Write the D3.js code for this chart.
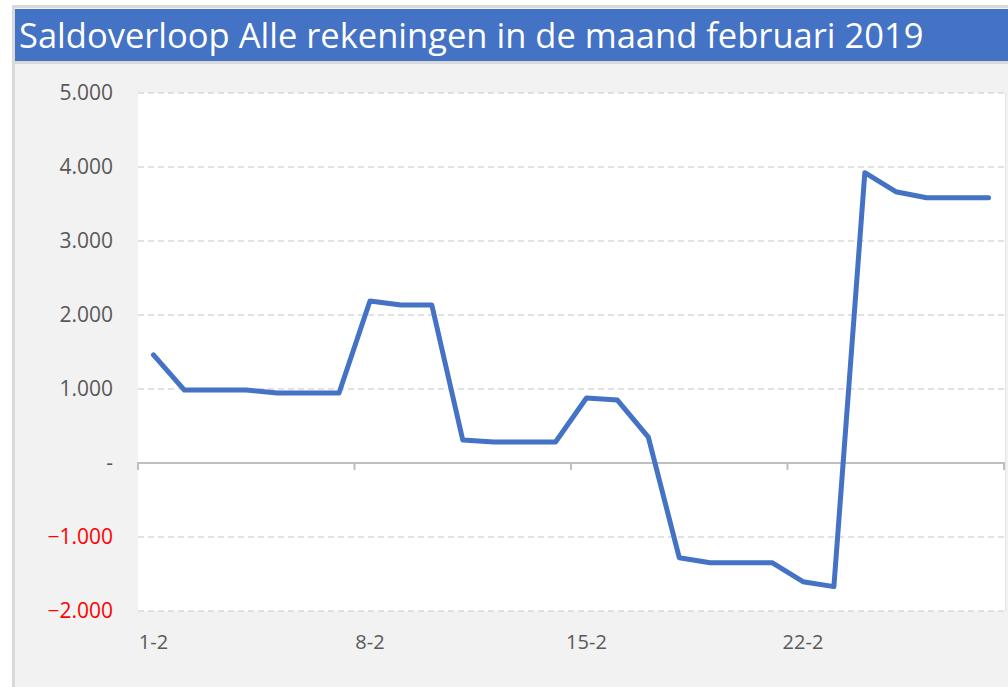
<!DOCTYPE html>
<html>
<head>
<meta charset="utf-8">
<script src="https://cdnjs.cloudflare.com/ajax/libs/d3/7.8.5/d3.min.js"></script>
<style>
  body { margin: 0; background: #fff; }
  text { font-family: "Open Sans", "Noto Sans", sans-serif; }
</style>
</head>
<body>
<svg id="chart" width="1008" height="687"></svg>
<script>
  // data
  var days = ['1-2','2-2','3-2','4-2','5-2','6-2','7-2','8-2','9-2','10-2',
              '11-2','12-2','13-2','14-2','15-2','16-2','17-2','18-2','19-2','20-2',
              '21-2','22-2','23-2','24-2','25-2','26-2','27-2','28-2'];
  var saldo = [1460, 986, 986, 986, 946, 946, 946, 2190, 2135, 2135,
               310, 284, 284, 284, 878, 851, 351, -1280, -1347, -1347,
               -1347, -1604, -1671, 3923, 3666, 3585, 3585, 3585];
  var yTicks = [5000, 4000, 3000, 2000, 1000, 0, -1000, -2000];
  var xLabels = ['1-2', '8-2', '15-2', '22-2'];

  var title = 'Saldoverloop Alle rekeningen in de maand februari 2019';

  function fmt(v){
    if(v === 0) return '-';
    return d3.format(',')(v).replace(/,/g, '.');
  }

  var svg = d3.select('#chart');

  // frame + background
  svg.append('rect').attr('x', 12).attr('y', 5).attr('width', 1000).attr('height', 690)
    .attr('fill', '#d9d9d9');
  svg.append('rect').attr('x', 15).attr('y', 8).attr('width', 1000).attr('height', 690)
    .attr('fill', '#f2f2f2');

  // title bar
  svg.append('rect').attr('x', 15).attr('y', 61).attr('width', 993).attr('height', 3)
    .attr('fill', '#d9d9d9');
  svg.append('rect').attr('x', 15).attr('y', 9).attr('width', 993).attr('height', 52)
    .attr('fill', '#4472c4');
  svg.append('text').attr('x', 19).attr('y', 47.5)
    .attr('fill', '#fff').attr('font-size', 34.5)
    .text(title);

  // plot box ("top" is taken by window.top)
  var pLeft = 138, pRight = 1004, pTop = 93, pBottom = 611;

  var x = d3.scaleBand().domain(days).range([pLeft, pRight]);
  var y = d3.scaleLinear().domain([-2000, 5000]).range([pBottom, pTop]);

  // plot area
  svg.append('rect').attr('x', pLeft).attr('y', pTop)
    .attr('width', pRight - pLeft + 1).attr('height', pBottom - pTop)
    .attr('fill', '#fff');
  svg.append('line').attr('x1', pRight + 1.5).attr('x2', pRight + 1.5)
    .attr('y1', pTop).attr('y2', pBottom)
    .attr('stroke', '#e6e6e6').attr('stroke-width', 1);

  // gridlines
  svg.append('g').selectAll('line').data(yTicks.filter(function(d){ return d !== 0 }))
    .enter().append('line')
    .attr('x1', pLeft).attr('x2', pRight + 1)
    .attr('y1', function(d){ return y(d) }).attr('y2', function(d){ return y(d) })
    .attr('stroke', '#d9d9d9').attr('stroke-width', 1.5)
    .attr('stroke-dasharray', '6,4');

  // y labels
  svg.append('g').selectAll('text').data(yTicks)
    .enter().append('text')
    .attr('x', 113).attr('y', function(d){ return y(d) + 7 })
    .attr('text-anchor', 'end').attr('font-size', 21)
    .attr('fill', function(d){ return d < 0 ? '#ff0000' : '#595959' })
    .text(fmt);

  // zero axis with ticks every 7 days
  var axis = d3.axisBottom(x)
    .tickValues(xLabels)
    .tickSize(7)
    .tickFormat('');
  var ax = svg.append('g').attr('transform', 'translate(0,' + y(0) + ')').call(axis);
  ax.select('.domain').attr('stroke', '#bfbfbf').attr('stroke-width', 2)
    .attr('d', 'M' + pLeft + ',7V0H' + pRight + 'V7');
  ax.selectAll('.tick')
    .attr('transform', function(d){ return 'translate(' + x(d) + ',0)' });
  ax.selectAll('.tick line').attr('stroke', '#bfbfbf').attr('stroke-width', 2);

  // x labels
  svg.append('g').selectAll('text').data(xLabels)
    .enter().append('text')
    .attr('x', function(d){ return x(d) + x.bandwidth() / 2 })
    .attr('y', 649).attr('text-anchor', 'middle')
    .attr('font-size', 20).attr('fill', '#595959')
    .text(function(d){ return d });

  // line
  var line = d3.line()
    .x(function(d, i){ return x(days[i]) + x.bandwidth() / 2 })
    .y(function(d){ return y(d) });

  svg.append('path').datum(saldo)
    .attr('d', line)
    .attr('fill', 'none')
    .attr('stroke', '#4472c4').attr('stroke-width', 5)
    .attr('stroke-linecap', 'round').attr('stroke-linejoin', 'round');
</script>
</body>
</html>
